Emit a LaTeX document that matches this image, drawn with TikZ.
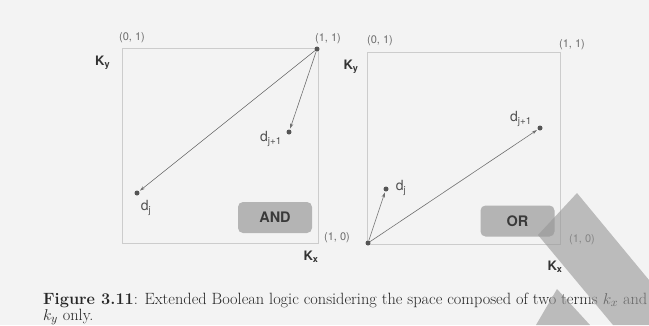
\documentclass[tikz,border=0pt]{standalone}
\usepackage{fontspec}
\newfontfamily\hv{TeX Gyre Heros}
\usetikzlibrary{arrows.meta}
\definecolor{bg}{HTML}{F3F3F3}
\definecolor{boxline}{HTML}{CCCCCC}
\definecolor{labgray}{HTML}{6A6A6A}
\definecolor{darktext}{HTML}{333333}
\definecolor{dtext}{HTML}{505050}
\definecolor{opgray}{HTML}{B4B4B4}
\definecolor{optext}{HTML}{3A3A3A}
\definecolor{dotgray}{HTML}{555555}
\definecolor{arrgray}{HTML}{707070}
\definecolor{wmark}{HTML}{969696}
\newsavebox\capbox
\newlength\capw
\begin{document}
\sbox\capbox{\fontsize{15}{18}\selectfont\textbf{Figure 3.11}: Extended Boolean logic considering the space composed of two terms $k_x$ and}%
\setlength\capw{\wd\capbox}%
\pgfmathsetmacro\capscale{604/\capw}%
\begin{tikzpicture}[x=1pt,y=-1pt,
  lbl/.style={font=\hv\fontsize{11}{13}\selectfont, text=labgray, inner sep=0},
  axislbl/.style={font=\hv\bfseries\fontsize{13}{15}\selectfont, text=darktext, inner sep=0},
  dlbl/.style={font=\hv\fontsize{14}{16}\selectfont, text=dtext, inner sep=0},
  opbox/.style={fill=opgray, rounded corners=5pt, font=\hv\bfseries\fontsize{14.5}{16}\selectfont,
    text=optext, minimum width=74pt, minimum height=31pt, inner sep=0},
  dot/.style={circle, fill=dotgray, inner sep=0, minimum size=5pt},
  arr/.style={draw=arrgray, line width=0.6pt, shorten >=1pt, -{Stealth[length=5pt,width=3.2pt]}},
  frame/.style={draw=boxline, line width=0.7pt},
  capfont/.style={font=\fontsize{15}{18}\selectfont, inner sep=0, anchor=base west, text=black!85}
]
\useasboundingbox (0,0) rectangle (649,325);
\fill[bg] (0,0) rectangle (649,325);

% ---------- left panel (AND) ----------
\draw[frame] (122,48) rectangle (318,243);
\node[lbl] (l01) at (132,38) {(0, 1)};
\node[lbl] (l11) at (328,39) {(1, 1)};
\node[lbl] (l10) at (337,238) {(1, 0)};
\node[axislbl, anchor=west] (lky) at (95,63) {K\textsubscript{y}};
\node[axislbl] (lkx) at (311,257) {K\textsubscript{x}};
\node[dot] (lc) at (317,49) {};
\node[dot] (ldj) at (137,193) {};
\node[dot] (ldj1) at (289,132) {};
\node[dlbl] (ldjl) at (146,208) {d\textsubscript{j}};
\node[dlbl] (ldj1l) at (271,139) {d\textsubscript{j+1}};
\node[opbox] (and) at (275,217.5) {AND};
\draw[arr] (lc) -- (ldj);
\draw[arr] (lc) -- (ldj1);

% ---------- right panel (OR) ----------
\draw[frame] (367,52) rectangle (560,244);
\node[lbl] (r01) at (380,41) {(0, 1)};
\node[lbl] (r11) at (572,45) {(1, 1)};
\node[axislbl] (rky) at (351,67) {K\textsubscript{y}};
\node[opbox] (or) at (517.5,221) {OR};
\node[dot] (ro) at (368,243) {};
\node[dot] (rdj) at (386,189) {};
\node[dot] (rdj1) at (540,128) {};
\node[dlbl] (rdjl) at (401,188) {d\textsubscript{j}};
\node[dlbl] (rdj1l) at (521,119) {d\textsubscript{j+1}};
\draw[arr] (ro) -- (rdj);
\draw[arr] (ro) -- (rdj1);
\node[lbl] (r10) at (582,240) {(1, 0)};
\node[axislbl] (rkx) at (555,267) {K\textsubscript{x}};

% ---------- caption ----------
\node[capfont] (cap1) at (43,304) {\scalebox{\capscale}{\textbf{Figure 3.11}: Extended Boolean logic considering the space composed of two terms $k_x$ and}};
\node[capfont] (cap2) at (43,320) {\scalebox{\capscale}{$k_y$ only.}};

% ---------- scan watermark ----------
\fill[wmark, opacity=0.6] (538,235) -- (577,193) -- (649,280) -- (649,325) -- (613,325) -- cycle;
\fill[wmark, opacity=0.6] (557,289) -- (590,325) -- (536,325) -- cycle;
\end{tikzpicture}
\end{document}
